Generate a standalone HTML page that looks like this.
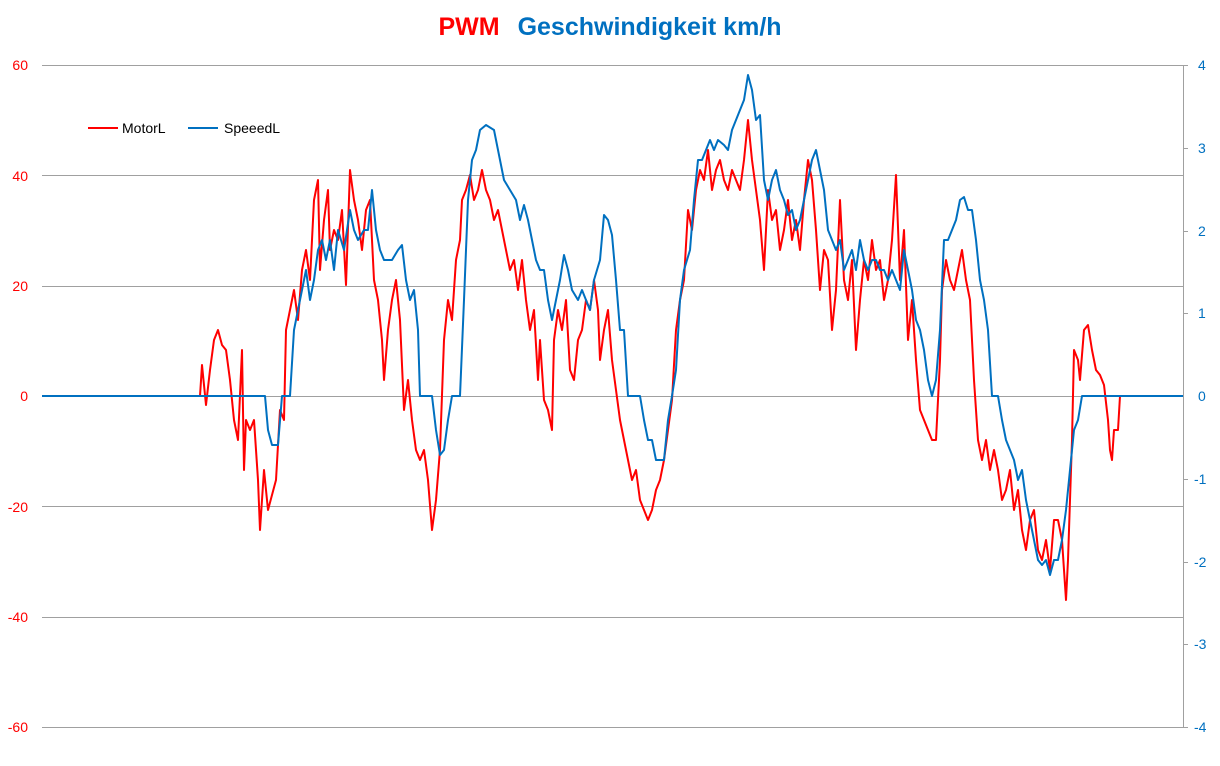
<!DOCTYPE html>
<html><head><meta charset="utf-8"><style>
body{margin:0;background:#fff;width:1220px;height:761px;overflow:hidden}
text{font-family:"Liberation Sans",sans-serif}
</style></head><body>
<svg width="1220" height="761" xmlns="http://www.w3.org/2000/svg">
<rect width="1220" height="761" fill="#fff"/>
<text x="610" y="35" text-anchor="middle" font-size="25" font-weight="bold"><tspan fill="#ff0000">PWM</tspan><tspan fill="#0070c0" dx="18">Geschwindigkeit  km/h</tspan></text>
<g stroke="#a0a0a0" stroke-width="1">
<line x1="42" y1="65.5" x2="1183" y2="65.5"/>
<line x1="42" y1="175.5" x2="1183" y2="175.5"/>
<line x1="42" y1="286.5" x2="1183" y2="286.5"/>
<line x1="42" y1="396.5" x2="1183" y2="396.5"/>
<line x1="42" y1="506.5" x2="1183" y2="506.5"/>
<line x1="42" y1="617.5" x2="1183" y2="617.5"/>
<line x1="42" y1="727.5" x2="1183" y2="727.5"/>
<line x1="1183.5" y1="65" x2="1183.5" y2="727"/>
<line x1="1183" y1="148.5" x2="1188" y2="148.5"/>
<line x1="1183" y1="231.5" x2="1188" y2="231.5"/>
<line x1="1183" y1="313.5" x2="1188" y2="313.5"/>
<line x1="1183" y1="479.5" x2="1188" y2="479.5"/>
<line x1="1183" y1="562.5" x2="1188" y2="562.5"/>
<line x1="1183" y1="644.5" x2="1188" y2="644.5"/>
<line x1="1183" y1="65.5" x2="1188" y2="65.5"/>
<line x1="1183" y1="727.5" x2="1188" y2="727.5"/>
</g>
<g fill="#ff0000" font-size="14" text-anchor="end">
<text x="28" y="70">60</text><text x="28" y="181">40</text><text x="28" y="291">20</text><text x="28" y="401">0</text><text x="28" y="512">-20</text><text x="28" y="622">-40</text><text x="28" y="732">-60</text>
</g>
<g fill="#0070c0" font-size="14">
<text x="1198" y="70">4</text><text x="1198" y="153">3</text><text x="1198" y="236">2</text><text x="1198" y="318">1</text><text x="1198" y="401">0</text><text x="1194" y="484">-1</text><text x="1194" y="567">-2</text><text x="1194" y="649">-3</text><text x="1194" y="732">-4</text>
</g>
<line x1="88" y1="128" x2="118" y2="128" stroke="#ff0000" stroke-width="2"/>
<text x="122" y="133" font-size="14" fill="#000">MotorL</text>
<line x1="188" y1="128" x2="218" y2="128" stroke="#0070c0" stroke-width="2"/>
<text x="224" y="133" font-size="14" fill="#000">SpeeedL</text>
<polyline fill="none" stroke="#ff0000" stroke-width="2" stroke-linejoin="round" points="42,396 200,396 202,365 206,405 210,370 214,340 218,330 222,345 226,350 230,380 234,420 238,440 242,350 244,470 246,420 250,430 254,420 258,480 260,530 264,470 268,510 272,495 276,480 280,410 284,420 286,330 290,310 294,290 298,320 302,270 306,250 310,280 314,200 318,180 320,270 324,220 328,190 330,250 334,230 338,240 342,210 346,285 350,170 354,200 358,220 362,250 366,210 370,200 374,280 378,300 382,340 384,380 388,330 392,300 396,280 400,320 404,410 408,380 412,420 416,450 420,460 424,450 428,480 432,530 436,500 440,450 444,340 448,300 452,320 456,260 460,240 462,200 466,190 470,175 474,200 478,190 482,170 486,190 490,200 494,220 498,210 502,230 506,250 510,270 514,260 518,290 522,260 526,300 530,330 534,310 538,380 540,340 544,400 548,410 552,430 554,340 558,310 562,330 566,300 570,370 574,380 578,340 582,330 586,300 590,310 594,280 598,310 600,360 604,330 608,310 612,360 616,390 620,420 624,440 628,460 632,480 636,470 640,500 644,510 648,520 652,510 656,490 660,480 664,460 668,430 672,400 676,330 680,300 684,280 688,210 692,230 696,190 700,170 704,180 708,150 712,190 716,170 720,160 724,180 728,190 732,170 736,180 740,190 744,160 748,120 752,160 756,190 760,220 764,270 768,190 772,220 776,210 780,250 784,230 788,200 792,240 796,220 800,250 804,200 808,160 812,180 816,230 820,290 824,250 828,260 832,330 836,290 840,200 844,280 848,300 852,260 856,350 860,300 864,260 868,280 872,240 876,270 880,260 884,300 888,280 892,240 896,175 900,280 904,230 908,340 912,300 916,360 920,410 924,420 928,430 932,440 936,440 940,360 942,290 946,260 950,280 954,290 958,270 962,250 966,280 970,300 974,380 978,440 982,460 986,440 990,470 994,450 998,470 1002,500 1006,490 1010,470 1014,510 1018,490 1022,530 1026,550 1030,520 1034,510 1038,550 1042,560 1046,540 1050,570 1054,520 1058,520 1062,540 1066,600 1068,560 1070,500 1072,440 1074,350 1078,360 1080,380 1084,330 1088,325 1092,350 1096,370 1100,375 1104,385 1108,420 1110,450 1112,460 1114,430 1118,430 1120,396"/>
<polyline fill="none" stroke="#0070c0" stroke-width="2" stroke-linejoin="round" points="42,396 265,396 268,430 272,445 278,445 282,396 290,396 294,330 300,300 306,270 310,300 314,280 318,250 322,240 326,260 330,240 334,270 338,230 344,250 350,210 354,230 358,240 364,230 368,230 372,190 376,230 380,250 384,260 388,260 392,260 398,250 402,245 406,280 410,300 414,290 418,330 420,396 432,396 436,430 440,455 444,450 448,420 452,396 460,396 464,300 468,200 472,160 476,150 480,130 486,125 494,130 500,160 504,180 510,190 516,200 520,220 524,205 528,220 532,240 536,260 540,270 544,270 548,300 552,320 556,300 560,280 564,255 568,270 572,290 578,300 582,290 586,300 590,310 594,280 600,260 604,215 608,220 612,235 616,280 620,330 624,330 628,396 640,396 644,420 648,440 652,440 656,460 664,460 668,420 672,396 676,370 680,300 684,270 690,250 694,200 698,160 702,160 706,150 710,140 714,150 718,140 724,145 728,150 732,130 736,120 740,110 744,100 748,75 752,90 756,120 760,115 764,180 768,200 772,180 776,170 780,190 784,200 788,215 792,210 796,230 800,220 804,200 808,180 812,160 816,150 820,170 824,190 828,230 832,240 836,250 840,240 844,270 848,260 852,250 856,270 860,240 864,260 868,270 872,260 876,260 880,270 884,270 888,280 892,270 896,280 900,290 904,250 908,270 912,290 916,320 920,330 924,350 928,380 932,396 936,380 940,330 944,240 948,240 952,230 956,220 960,200 964,197 968,210 972,210 976,240 980,280 984,300 988,330 992,396 998,396 1002,420 1006,440 1010,450 1014,460 1018,480 1022,470 1026,500 1030,520 1034,540 1038,560 1042,565 1046,560 1050,575 1054,560 1058,560 1062,540 1066,510 1070,470 1074,430 1078,420 1082,396 1183,396"/>
</svg>
</body></html>
